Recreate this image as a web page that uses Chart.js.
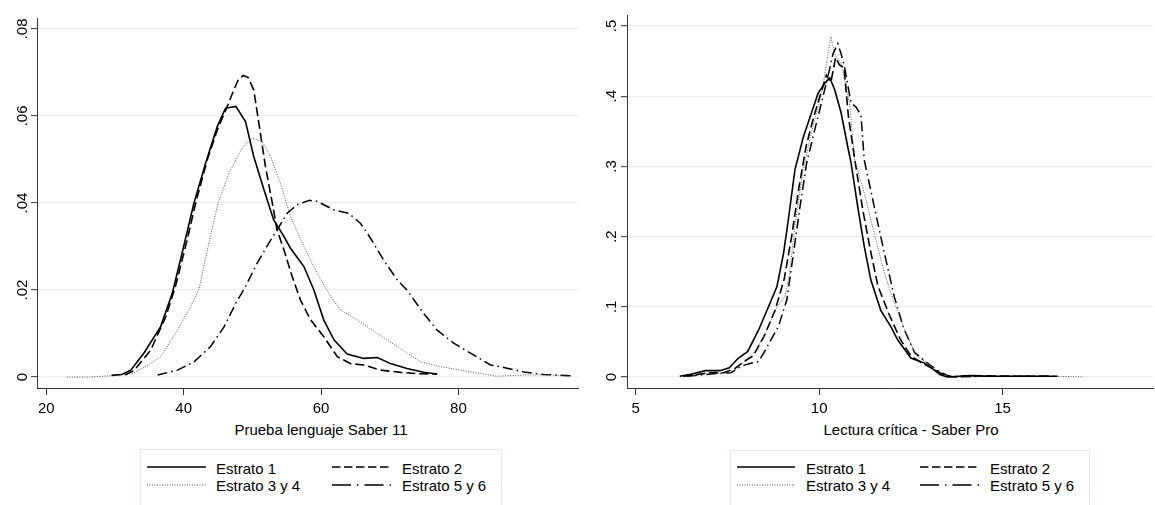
<!DOCTYPE html>
<html><head><meta charset="utf-8">
<script src="https://cdn.jsdelivr.net/npm/chart.js@4.4.1/dist/chart.umd.min.js"></script>
<style>
html,body{margin:0;padding:0;background:#fff;}
body{width:1155px;height:505px;overflow:hidden;position:relative;font-family:"Liberation Sans",Arial,sans-serif;color:#000;}
canvas{display:block;position:absolute;top:0;}
.title{position:absolute;font-size:15px;line-height:17px;white-space:nowrap;transform:translateX(-50%);}
.legend{position:absolute;border:1px solid #e1eaec;box-sizing:border-box;}
.item{position:absolute;font-size:15px;line-height:17px;white-space:nowrap;}
svg{position:absolute;left:0;top:0;}
</style>
</head><body>
<canvas id="c1" width="590" height="420" style="left:0;width:590px;height:420px"></canvas>
<canvas id="c2" width="565" height="420" style="left:590px;width:565px;height:420px"></canvas>
<div class="title" style="left:321px;top:421px">Prueba lenguaje Saber 11</div>
<div class="title" style="left:911px;top:421px">Lectura crítica - Saber Pro</div>
<div class="legend" style="left:140px;top:449px;width:362px;height:70px"></div>
<div class="legend" style="left:730px;top:450px;width:360px;height:70px"></div>
<div id="leg"></div>
<svg id="legsvg" width="1155" height="505"></svg>
<script>
// ---------- categories ----------
const seriesNames = ['Estrato 1', 'Estrato 2', 'Estrato 3 y 4', 'Estrato 5 y 6'];

// ---------- left panel: Prueba lenguaje Saber 11 ----------
const leftE1x = [29.5, 31, 32.3, 34.2, 36.65, 38.35, 40.0, 41.5, 43.2, 44.9, 46.1, 47.6, 49.0, 50.2, 51.7, 53.1, 54.6, 55.55, 57.5, 58.95, 60.4, 61.9, 63.8, 66.2, 68.2, 70.1, 72.5, 74.95, 76.9];
const leftE1y = [0.0004, 0.0006, 0.0016, 0.0055, 0.0116, 0.0193, 0.03, 0.04, 0.0492, 0.0576, 0.0618, 0.0622, 0.0587, 0.0507, 0.043, 0.0361, 0.0323, 0.0296, 0.0254, 0.02, 0.0131, 0.0085, 0.0053, 0.0043, 0.0045, 0.0031, 0.002, 0.0011, 0.0007];

const leftE2x = [31.5, 32.8, 35.2, 37.4, 38.8, 40.5, 41.75, 43.45, 44.9, 46.3, 47.3, 48.0, 48.7, 49.4, 50.2, 50.95, 51.9, 52.9, 53.6, 54.6, 55.8, 57.0, 58.5, 60.4, 62.35, 64.3, 66.2, 68.65, 71.6, 74.0, 76.9];
const leftE2y = [0.0005, 0.0016, 0.0062, 0.0139, 0.0208, 0.0315, 0.04, 0.05, 0.0568, 0.062, 0.066, 0.0685, 0.0693, 0.0688, 0.066, 0.0583, 0.0484, 0.04, 0.0338, 0.0292, 0.0231, 0.0177, 0.0131, 0.0093, 0.0047, 0.0031, 0.0028, 0.0016, 0.0011, 0.0008, 0.0007];

const leftE3x = [23, 26, 29.3, 32.6, 34.9, 36.65, 39.1, 41.0, 42.2, 43.45, 45.0, 46.6, 48.5, 50.0, 51.45, 52.65, 54.1, 55.55, 57.5, 59.45, 61.4, 62.85, 65.3, 68.2, 71.1, 74.5, 77.4, 81.75, 85.6, 89.5, 93.4, 96.0];
const leftE3y = [0, 0, 0.0003, 0.0009, 0.0028, 0.0047, 0.0108, 0.0162, 0.02, 0.0292, 0.04, 0.0469, 0.0526, 0.0549, 0.0541, 0.0507, 0.0445, 0.0369, 0.03, 0.0238, 0.0185, 0.0154, 0.0131, 0.01, 0.007, 0.0035, 0.0024, 0.0012, 0.0002, 0.0005, 0.0005, 0.0002];

const leftE4x = [36.2, 39.1, 41.5, 43.9, 45.9, 47.6, 49.0, 50.7, 52.4, 53.9, 55.1, 56.5, 58.3, 59.4, 61.9, 64.05, 65.75, 67.2, 69.1, 71.1, 72.5, 74.95, 76.9, 79.3, 81.75, 84.65, 86.6, 89.5, 92.4, 96.3];
const leftE4y = [0.0005, 0.0016, 0.0035, 0.007, 0.0116, 0.017, 0.0208, 0.0262, 0.0308, 0.0346, 0.0377, 0.0396, 0.0406, 0.0404, 0.0384, 0.0376, 0.0353, 0.0319, 0.0269, 0.0223, 0.02, 0.0146, 0.0108, 0.0078, 0.0055, 0.0028, 0.0022, 0.0012, 0.0006, 0.0003];

const leftXTicks = [20, 40, 60, 80];
const leftYTicks = [0, 0.02, 0.04, 0.06, 0.08];
const leftYLabels = ['0', '.02', '.04', '.06', '.08'];
const leftXTitle = 'Prueba lenguaje Saber 11';

// ---------- right panel: Lectura crítica - Saber Pro ----------
const rightE1x = [6.2, 6.5, 6.9, 7.3, 7.55, 7.8, 8.05, 8.35, 8.62, 8.85, 9.03, 9.16, 9.34, 9.57, 9.79, 9.97, 10.15, 10.29, 10.42, 10.6, 10.78, 10.87, 11.05, 11.23, 11.41, 11.68, 11.95, 12.14, 12.5, 12.86, 13.13, 13.3, 13.5, 14.1, 14.5, 15.5, 16.5];
const rightE1y = [0.001, 0.004, 0.009, 0.009, 0.013, 0.027, 0.036, 0.067, 0.1, 0.129, 0.176, 0.224, 0.295, 0.342, 0.376, 0.404, 0.418, 0.426, 0.41, 0.376, 0.328, 0.305, 0.243, 0.186, 0.138, 0.095, 0.072, 0.053, 0.027, 0.02, 0.01, 0.003, 0.0, 0.002, 0.001, 0.001, 0.001];

const rightE2x = [6.3, 6.6, 7.0, 7.4, 7.7, 7.95, 8.2, 8.5, 8.8, 9.05, 9.25, 9.45, 9.65, 9.85, 10.05, 10.2, 10.32, 10.45, 10.55, 10.68, 10.8, 11.0, 11.2, 11.4, 11.6, 11.9, 12.2, 12.5, 12.8, 13.1, 13.35, 13.6, 14.2, 15, 16.3];
const rightE2y = [0.001, 0.003, 0.006, 0.006, 0.012, 0.022, 0.03, 0.058, 0.095, 0.14, 0.2, 0.27, 0.33, 0.37, 0.405, 0.43, 0.42, 0.455, 0.445, 0.44, 0.37, 0.3, 0.235, 0.18, 0.13, 0.09, 0.055, 0.03, 0.02, 0.012, 0.004, 0, 0.002, 0.001, 0.001];

const rightE3x = [6.3, 6.7, 7.0, 7.4, 7.7, 8.0, 8.3, 8.6, 8.85, 9.07, 9.2, 9.35, 9.55, 9.75, 9.95, 10.12, 10.24, 10.32, 10.42, 10.6, 10.83, 10.97, 11.23, 11.5, 11.78, 12.05, 12.35, 12.65, 12.95, 13.25, 13.55, 14.5, 15.5, 16.5, 17.2];
const rightE3y = [0.0, 0.003, 0.005, 0.005, 0.01, 0.024, 0.04, 0.07, 0.1, 0.114, 0.15, 0.22, 0.29, 0.34, 0.38, 0.42, 0.46, 0.485, 0.46, 0.447, 0.39, 0.309, 0.262, 0.205, 0.148, 0.105, 0.065, 0.03, 0.02, 0.008, 0.0, 0.001, 0.001, 0.001, 0.0];

const rightE4x = [6.4, 6.8, 7.2, 7.6, 7.9, 8.17, 8.35, 8.53, 8.89, 9.12, 9.3, 9.48, 9.66, 9.88, 10.06, 10.24, 10.38, 10.51, 10.6, 10.69, 10.87, 11.0, 11.14, 11.23, 11.5, 11.78, 12.05, 12.3, 12.6, 12.9, 13.2, 13.5, 13.7, 14.5, 15.5, 16.5];
const rightE4y = [0.001, 0.003, 0.005, 0.006, 0.016, 0.02, 0.022, 0.038, 0.072, 0.11, 0.176, 0.243, 0.305, 0.352, 0.39, 0.428, 0.461, 0.475, 0.46, 0.442, 0.39, 0.385, 0.373, 0.309, 0.243, 0.176, 0.114, 0.07, 0.035, 0.022, 0.01, 0.002, 0, 0.001, 0.001, 0.001];

const rightXTicks = [5, 10, 15];
const rightYTicks = [0, 0.1, 0.2, 0.3, 0.4, 0.5];
const rightYLabels = ['0', '.1', '.2', '.3', '.4', '.5'];
const rightXTitle = 'Lectura crítica - Saber Pro';

// ---------- styles ----------
const FONT = '"Liberation Sans", Arial, Helvetica, sans-serif';
Chart.defaults.font.family = FONT;
Chart.defaults.font.size = 15;
Chart.defaults.color = '#000';
const AXIS = '#333';

const lineStyles = [
  { borderColor: '#000', borderWidth: 1.6, borderDash: [] },
  { borderColor: '#000', borderWidth: 1.6, borderDash: [9, 4] },
  { borderColor: '#555', borderWidth: 1, borderDash: [1, 1.5] },
  { borderColor: '#000', borderWidth: 1.5, borderDash: [10, 4, 1.5, 4] }
];

function pts(xs, ys) { return xs.map((x, i) => ({ x: x, y: ys[i] })); }

const rotLabels = {
  id: 'rotLabels',
  afterDraw(chart, args, opts) {
    const s = chart.scales.y, ctx = chart.ctx;
    ctx.save();
    ctx.fillStyle = '#000';
    ctx.font = '15px ' + FONT;
    ctx.textAlign = 'center';
    ctx.textBaseline = 'middle';
    opts.values.forEach((v, i) => {
      const y = s.getPixelForValue(v);
      ctx.save();
      ctx.translate(chart.chartArea.left - opts.offset, y);
      ctx.rotate(-Math.PI / 2);
      ctx.fillText(opts.labels[i], 0, 0);
      ctx.restore();
    });
    ctx.restore();
  }
};

function makeChart(id, series, xr, yr, xTicks, yTicks, yLabels, pad, yOff) {
  new Chart(document.getElementById(id), {
    type: 'line',
    data: {
      datasets: series.map((s, i) => Object.assign({
        label: seriesNames[i], data: s, pointRadius: 0, fill: false, tension: 0
      }, lineStyles[i]))
    },
    options: {
      responsive: false, animation: false, devicePixelRatio: 1,
      layout: { padding: pad },
      plugins: { legend: { display: false }, tooltip: { enabled: false },
        rotLabels: { values: yTicks, labels: yLabels, offset: yOff } },
      scales: {
        x: {
          type: 'linear', min: xr[0], max: xr[1],
          afterBuildTicks: s => { s.ticks = xTicks.map(v => ({ value: v })); },
          afterFit: s => { s.height = 32; },
          ticks: { padding: 5, color: '#000', callback: v => String(v), maxRotation: 0, autoSkip: false },
          grid: { drawOnChartArea: false, tickLength: 7, tickColor: AXIS, tickWidth: 1 },
          border: { display: true, color: AXIS, width: 1 }
        },
        y: {
          type: 'linear', min: yr[0], max: yr[1],
          afterBuildTicks: s => { s.ticks = yTicks.map(v => ({ value: v })); },
          afterFit: s => { s.width = 37; },
          ticks: { display: false },
          grid: { color: '#e6eff1', lineWidth: 1.3, tickLength: 6, tickColor: AXIS, tickWidth: 1 },
          border: { display: true, color: AXIS, width: 1 }
        }
      }
    },
    plugins: [rotLabels]
  });
}

makeChart('c1',
  [pts(leftE1x, leftE1y), pts(leftE2x, leftE2y), pts(leftE3x, leftE3y), pts(leftE4x, leftE4y)],
  [18.65, 97.4], [-0.0025, 0.0825], leftXTicks, leftYTicks, leftYLabels,
  { top: 18, right: 12, left: 0, bottom: 0 }, 14);

makeChart('c2',
  [pts(rightE1x, rightE1y), pts(rightE2x, rightE2y), pts(rightE3x, rightE3y), pts(rightE4x, rightE4y)],
  [4.763, 19.1], [-0.0157, 0.5157], rightXTicks, rightYTicks, rightYLabels,
  { top: 15, right: 2, left: 0, bottom: 0 }, 15);

// ---------- legends (HTML text + SVG samples) ----------
const legendSpecs = [
  { lineX: [147, 206], textX: [216], col2Line: [332, 392], col2Text: 402, rows: [467, 485], textTop: [460, 477] },
  { lineX: [737, 795], textX: [806], col2Line: [920, 980], col2Text: 990, rows: [467, 485], textTop: [460, 477] }
];
const sampleDash = ['', '8.5 3.5', '1 1.5', '19 6 1.5 6'];
const sampleColor = ['#000', '#000', '#555', '#000'];
const sampleWidth = [1.6, 1.6, 1, 1.5];
const svg = document.getElementById('legsvg');
const leg = document.getElementById('leg');
legendSpecs.forEach(sp => {
  seriesNames.forEach((name, i) => {
    const col = i % 2, row = Math.floor(i / 2);
    const lx = col === 0 ? sp.lineX : sp.col2Line;
    const tx = col === 0 ? sp.textX[0] : sp.col2Text;
    const ly = sp.rows[row];
    const ln = document.createElementNS('http://www.w3.org/2000/svg', 'line');
    ln.setAttribute('x1', lx[0]); ln.setAttribute('x2', lx[1]);
    ln.setAttribute('y1', ly); ln.setAttribute('y2', ly);
    ln.setAttribute('stroke', sampleColor[i]);
    ln.setAttribute('stroke-width', sampleWidth[i]);
    if (sampleDash[i]) ln.setAttribute('stroke-dasharray', sampleDash[i]);
    svg.appendChild(ln);
    const d = document.createElement('div');
    d.className = 'item';
    d.style.left = tx + 'px';
    d.style.top = sp.textTop[row] + 'px';
    d.textContent = name;
    leg.appendChild(d);
  });
});
</script>
</body></html>
